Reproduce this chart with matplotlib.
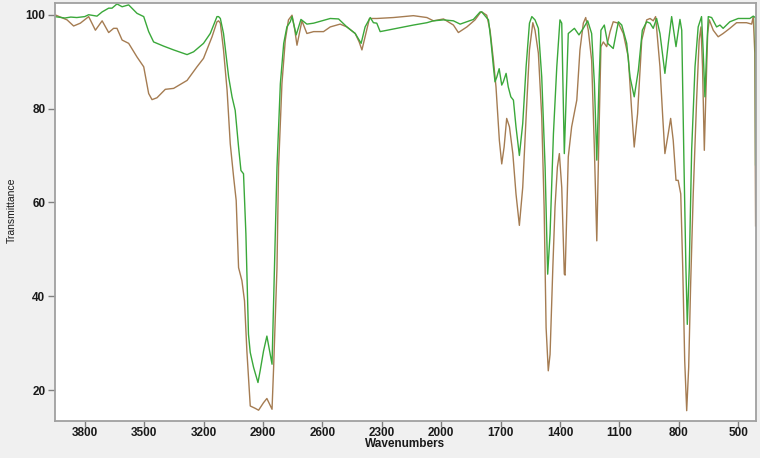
import matplotlib
matplotlib.use("Agg")
import matplotlib.pyplot as plt

# Spectrum 1 (brown)
brown_wn = [3951, 3889, 3856, 3822, 3780, 3746, 3712, 3679, 3654, 3637, 3611, 3578, 3536, 3502,
            3477, 3460, 3435, 3393, 3351, 3283, 3233, 3200, 3157, 3132, 3124, 3115, 3099, 3081,
            3065, 3048, 3035, 3023, 3006, 2993, 2981, 2964, 2939, 2922, 2897, 2880, 2854, 2846,
            2829, 2821, 2804, 2787, 2771, 2753, 2740, 2728, 2703, 2678, 2644, 2594, 2560, 2510,
            2476, 2434, 2414, 2400, 2384, 2362, 2325, 2241, 2140, 2072, 2039, 1988, 1938, 1913,
            1870, 1829, 1803, 1795, 1770, 1753, 1736, 1723, 1706, 1694, 1682, 1669, 1655, 1638,
            1622, 1605, 1588, 1571, 1554, 1537, 1526, 1509, 1492, 1480, 1470, 1459, 1450, 1436,
            1425, 1413, 1403, 1391, 1378, 1374, 1358, 1341, 1315, 1299, 1282, 1270, 1257, 1240,
            1226, 1214, 1203, 1193, 1181, 1164, 1147, 1131, 1105, 1080, 1055, 1038, 1025, 1008,
            987, 962, 945, 929, 917, 895, 881, 870, 853, 841, 828, 814, 803, 790, 780, 770, 760,
            750, 740, 727, 710, 697, 688, 680, 671, 664, 654, 646, 626, 601, 576, 542, 508, 458,
            432, 424, 416, 412]
brown_t = [100.0, 98.9, 97.6, 98.2, 99.6, 96.7, 98.7, 96.2, 97.1, 97.1, 94.6, 93.9, 91.0, 88.9,
           83.2, 81.9, 82.3, 84.1, 84.3, 86.0, 88.9, 90.7, 95.3, 98.5, 98.7, 98.2, 92.5, 83.9,
           72.5, 65.4, 60.4, 46.1, 43.3, 39.0, 28.3, 16.6, 16.1, 15.7, 17.3, 18.2, 15.9, 24.8,
           46.1, 67.5, 85.3, 94.6, 98.9, 99.9, 97.0, 93.5, 98.7, 96.0, 96.4, 96.4, 97.4, 98.0,
           97.4, 96.0, 94.2, 92.5, 95.3, 99.2, 99.2, 99.4, 99.8, 99.4, 98.7, 99.1, 97.8, 96.2,
           97.4, 98.9, 100.4, 100.6, 99.9, 96.7, 90.3, 84.6, 73.2, 68.2, 71.8, 77.9, 76.1, 70.4,
           61.8, 55.1, 63.2, 78.2, 92.5, 98.3, 96.7, 91.8, 78.2, 59.0, 33.3, 24.1, 27.6, 46.1,
           59.0, 67.5, 70.4, 63.2, 44.7, 44.5, 69.7, 76.1, 81.8, 92.5, 98.2, 99.4, 96.7, 90.3,
           71.1, 51.8, 74.7, 93.2, 94.2, 93.2, 96.4, 98.5, 98.2, 96.0, 91.0, 79.6, 71.8, 78.9,
           94.6, 98.9, 99.2, 98.7, 99.6, 88.9, 78.2, 70.4, 74.7, 77.9, 73.2, 64.7, 64.7, 61.8,
           46.1, 26.2, 15.6, 24.8, 42.6, 61.8, 81.8, 94.6, 97.4, 88.9, 71.1, 81.8, 96.0, 98.9,
           96.7, 95.3, 96.0, 97.1, 98.3, 98.3, 98.0, 99.6, 91.8, 55.0]

# Spectrum 2 (green)
green_wn = [3951, 3900, 3870, 3840, 3800, 3780, 3738, 3712, 3679, 3662, 3637, 3611, 3578, 3536,
            3502, 3477, 3452, 3401, 3351, 3283, 3250, 3200, 3166, 3132, 3124, 3115, 3099, 3073,
            3056, 3040, 3023, 3011, 2998, 2986, 2973, 2964, 2947, 2925, 2914, 2897, 2880, 2863,
            2854, 2842, 2829, 2812, 2795, 2779, 2762, 2753, 2732, 2708, 2678, 2644, 2560, 2518,
            2476, 2434, 2404, 2384, 2358, 2342, 2325, 2308, 2224, 2140, 2072, 2039, 1988, 1938,
            1904, 1837, 1803, 1795, 1761, 1749, 1736, 1728, 1719, 1707, 1694, 1686, 1672, 1661,
            1648, 1635, 1622, 1605, 1588, 1571, 1554, 1542, 1526, 1509, 1492, 1475, 1462, 1450,
            1433, 1416, 1400, 1391, 1378, 1358, 1327, 1304, 1282, 1260, 1240, 1226, 1214, 1203,
            1193, 1176, 1159, 1131, 1105, 1088, 1063, 1046, 1025, 1004, 984, 962, 945, 929, 912,
            895, 870, 853, 836, 814, 794, 785, 774, 764, 757, 747, 735, 718, 702, 685, 677, 668,
            659, 651, 634, 609, 592, 576, 542, 500, 466, 441, 424, 413, 412]
green_t = [99.6, 99.3, 99.5, 99.4, 99.6, 100.0, 99.7, 100.6, 101.4, 101.4, 102.3, 101.7, 102.1, 100.3,
           99.6, 96.4, 94.2, 93.3, 92.5, 91.5, 92.1, 93.9, 96.0, 99.6, 99.6, 99.2, 96.0, 86.7,
           82.5, 79.6, 71.8, 66.8, 66.1, 53.3, 31.9, 28.0, 24.8, 21.6, 24.1, 28.3, 31.5, 27.6,
           25.5, 46.1, 67.5, 85.3, 93.9, 97.4, 98.5, 99.6, 95.7, 99.0, 98.0, 98.2, 99.2, 99.1,
           97.4, 96.0, 93.9, 97.4, 99.4, 98.3, 98.2, 96.4, 97.1, 97.8, 98.3, 98.7, 98.9, 98.7,
           98.0, 99.0, 100.6, 100.6, 98.9, 94.6, 88.9, 85.7, 86.7, 88.5, 85.0, 85.7, 87.5, 84.6,
           82.5, 81.8, 76.1, 70.0, 76.8, 88.9, 98.2, 99.6, 98.9, 97.1, 86.7, 67.5, 44.7, 53.3,
           74.6, 88.9, 98.9, 98.2, 70.4, 96.0, 97.1, 95.7, 97.1, 98.7, 96.0, 85.3, 69.0, 85.3,
           96.7, 97.8, 93.9, 92.8, 98.5, 97.8, 93.9, 86.7, 82.5, 88.2, 96.7, 98.5, 98.2, 97.1, 99.2,
           96.0, 87.5, 93.9, 99.6, 93.2, 99.0, 96.7, 68.9, 46.1, 34.0, 46.1, 71.1, 88.9, 97.4, 99.6, 92.5, 82.5,
           92.5, 99.6, 99.4, 97.4, 97.8, 97.1, 98.5, 99.2, 99.2, 99.2, 99.7, 99.4, 68.0]

x_ticks = [3800, 3500, 3200, 2900, 2600, 2300, 2000, 1700, 1400, 1100, 800, 500]
y_ticks = [20, 40, 60, 80, 100]

fig = plt.figure(figsize=(7.6, 4.58), dpi=100, facecolor="#f0f0f0")
ax = fig.add_axes([55 / 760, 1 - 421 / 458, 701 / 760, 418 / 458])
ax.set_facecolor("white")

ax.plot(brown_wn, brown_t, color="#a57c52", lw=1.0)
ax.plot(green_wn, green_t, color="#3aa83a", lw=1.0)

ax.set_xlim(3950, 410)
ax.set_ylim(13.4, 102.5)
ax.set_xticks(x_ticks)
ax.set_yticks(y_ticks)

for s in ax.spines.values():
    s.set_color("#a0a0a0")
    s.set_linewidth(1.3)

ax.tick_params(axis="both", direction="out", width=1, color="#808080",
               labelsize=8.5, labelcolor="#1a1a1a")
ax.tick_params(axis="x", length=4, pad=0.5)
ax.tick_params(axis="y", length=5, pad=2)
for lab in ax.get_xticklabels() + ax.get_yticklabels():
    lab.set_family("Liberation Sans")
    lab.set_fontweight("bold")

ax.set_xlabel("Wavenumbers", family="Liberation Sans", fontsize=8.5, fontweight="bold",
              color="#1a1a1a", labelpad=-1)
fig.text(12 / 760, 1 - 210 / 458, "Transmittance", rotation=90, ha="center", va="center",
         family="Liberation Sans", fontsize=7.5, color="#1a1a1a")

fig.savefig("out.png", dpi=100, facecolor=fig.get_facecolor())
